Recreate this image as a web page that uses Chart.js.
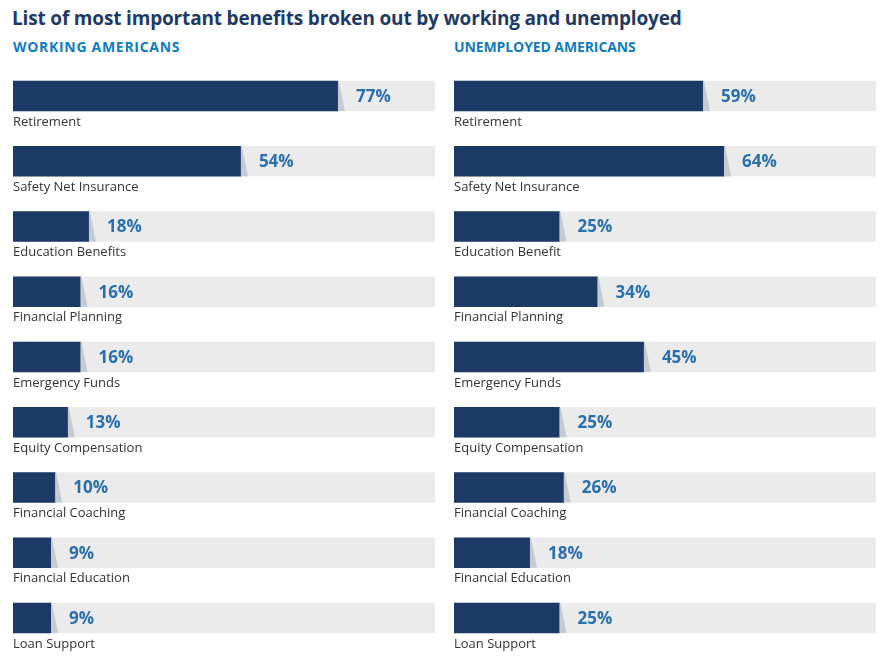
<!DOCTYPE html>
<html lang="en">
<head>
<meta charset="UTF-8">
<title>Most important benefits: working vs unemployed</title>
<script src="https://cdn.jsdelivr.net/npm/chart.js"></script>
<style>
body{margin:0;background:#fff;font-family:"Open Sans",sans-serif;width:885px;height:659px;position:relative;overflow:hidden;}
h1{position:absolute;left:12px;top:5px;margin:0;font-size:19px;font-weight:700;color:#1e3a66;white-space:nowrap;letter-spacing:-.17px;}
.sub{position:absolute;top:37px;margin:0;font-size:14px;font-weight:700;color:#0e7cc2;letter-spacing:.7px;}
.sub.right{letter-spacing:-.1px;}
.panel{position:absolute;top:0;height:659px;}
</style>
</head>
<body>
<h1>List of most important benefits broken out by working and unemployed</h1>
<div class="sub" style="left:13px">WORKING AMERICANS</div>
<div class="sub right" style="left:454px">UNEMPLOYED AMERICANS</div>
<div class="panel" style="left:0;width:442px"><canvas id="working"></canvas></div>
<div class="panel" style="left:441px;width:444px"><canvas id="unemployed"></canvas></div>

<script>
Chart.defaults.animation=false;

const WORKING_CATS=["Retirement","Safety Net Insurance","Education Benefits","Financial Planning",
  "Emergency Funds","Equity Compensation","Financial Coaching","Financial Education","Loan Support"];
const WORKING_VALS=[77,54,18,16,16,13,10,9,9];

const UNEMP_CATS=["Retirement","Safety Net Insurance","Education Benefit","Financial Planning",
  "Emergency Funds","Equity Compensation","Financial Coaching","Financial Education","Loan Support"];
const UNEMP_VALS=[59,64,25,34,45,25,26,18,25];

const NAVY="#1d3a66", TRACK="#ebebeb", SHADOW="#c4cbd3", VALUE_CLR="#2a6fae", CAT_CLR="#333";

/* shadow wedge, % label and category name under each bar */
const barDecor={
  id:"barDecor",
  afterDatasetsDraw(chart){
    const ctx=chart.ctx, meta=chart.getDatasetMeta(1);
    const vals=chart.data.datasets[1].data, cats=chart.data.labels;
    const x0=chart.chartArea.left;
    meta.data.forEach((bar,i)=>{
      const top=bar.y-bar.height/2, bot=bar.y+bar.height/2, end=bar.x;
      ctx.save();
      ctx.fillStyle=SHADOW;
      ctx.beginPath();
      ctx.moveTo(end,top);ctx.lineTo(end+1,top);ctx.lineTo(end+7,bot);ctx.lineTo(end,bot);
      ctx.closePath();ctx.fill();

      ctx.fillStyle=VALUE_CLR;
      ctx.font="700 17px 'Open Sans', sans-serif";
      ctx.textBaseline="middle";
      ctx.fillText(vals[i]+"%",end+18,bar.y+1);

      ctx.fillStyle=CAT_CLR;
      ctx.font="13px 'Open Sans', sans-serif";
      ctx.textBaseline="middle";
      ctx.fillText(cats[i],x0,bot+11);
      ctx.restore();
    });
  }
};

function makeChart(id,cats,vals,padRight){
  return new Chart(document.getElementById(id),{
    type:"bar",
    data:{
      labels:cats,
      datasets:[
        {data:cats.map(()=>100),backgroundColor:TRACK,barThickness:30,grouped:false,order:2},
        {data:vals,backgroundColor:NAVY,barThickness:30,grouped:false,order:1}
      ]
    },
    options:{
      indexAxis:"y",
      responsive:true,
      maintainAspectRatio:false,
      layout:{padding:{left:13,right:padRight,top:63.4,bottom:8.4}},
      scales:{
        x:{display:false,min:0,max:100},
        y:{display:false}
      },
      plugins:{legend:{display:false},tooltip:{enabled:false}}
    },
    plugins:[barDecor]
  });
}

makeChart("working",WORKING_CATS,WORKING_VALS,7);
makeChart("unemployed",UNEMP_CATS,UNEMP_VALS,9);
</script>
</body>
</html>
